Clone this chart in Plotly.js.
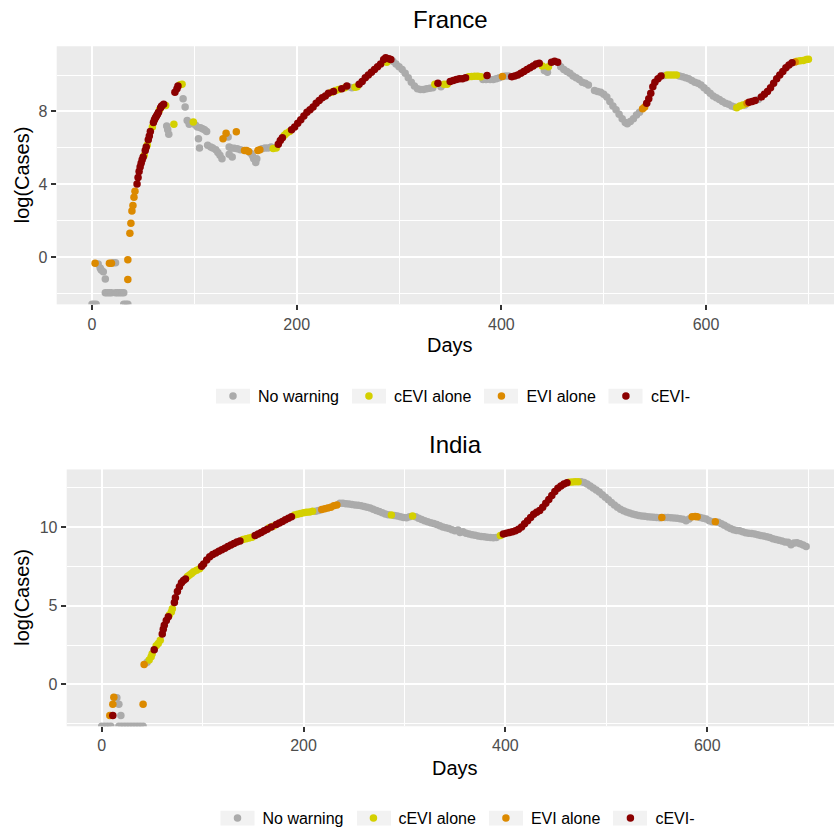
<!DOCTYPE html>
<html>
<head>
<meta charset="utf-8">
<script src="https://cdn.plot.ly/plotly-3.0.1.min.js"></script>
<style>
html, body { margin: 0; padding: 0; background: #ffffff; }
#chart { width: 834px; height: 835px; }
</style>
</head>
<body>
<div id="chart"></div>
<script>
// ---- Categories (legend order) ----
const categories = ["No warning", "cEVI alone", "EVI alone", "cEVI-"];
const categoryColors = ["#ABABAB", "#D4D000", "#DC8A00", "#8B0000"];

// ---- France: log(Cases) by day, split by warning category (-Infinity = log(0)) ----
const franceNoWarningDays = [0,2,4,6,8,9,11,13,13,15,17,19,21,23,23,25,27,29,31,31,33,35,73,74,75,89,91,93,95,101,103,104,105,106,108,110,112,113,116,118,121,123,125,127,133,134,134,136,137,139,142,145,155,157,158,160,161,166,169,172,175,251,254,294,297,300,303,306,309,312,315,318,321,324,327,330,333,341,382,385,389,392,395,398,404,407,442,445,458,461,464,467,470,473,476,479,482,485,491,494,497,500,503,506,509,512,515,518,521,523,526,529,532,535,559,574,577,580,583,586,589,592,595,598,601,604,607,610,613,616,619,622,625,628,638,651];
const franceNoWarningLogCases = [-Infinity,-Infinity,-Infinity,-0.38,-0.6,-0.7,-0.8,-1.2,-1.95,-1.95,-1.95,-1.95,-0.3,-0.3,-1.95,-1.95,-1.95,-1.95,-1.95,-Infinity,-Infinity,-Infinity,7.2,7.0,6.75,8.7,8.25,7.5,7.3,7.25,7.15,6.5,6.0,7.1,7.05,7.0,6.9,6.15,6.05,6.0,5.9,5.75,5.6,5.4,6.6,6.05,5.65,6.0,5.5,5.98,5.95,5.9,5.7,5.55,5.4,5.2,5.4,5.95,6.0,6.0,6.05,9.35,9.3,10.75,10.6,10.45,10.3,10.1,9.85,9.6,9.4,9.25,9.2,9.2,9.25,9.28,9.3,9.35,9.75,9.75,9.75,9.75,9.8,9.85,9.95,9.95,10.25,10.15,10.45,10.3,10.2,10.1,9.95,9.85,9.75,9.6,9.55,9.45,9.15,9.1,9.05,8.95,8.8,8.55,8.3,8.1,7.85,7.6,7.4,7.33,7.45,7.6,7.8,7.95,9.98,9.95,9.9,9.85,9.8,9.7,9.6,9.55,9.45,9.3,9.15,9.0,8.85,8.75,8.65,8.55,8.45,8.4,8.3,8.25,8.35,8.65];

const franceCeviAloneDays = [51,54,59,66,72,80,86,88,99,177,180,188,190,193,234,238,241,247,257,259,288,335,344,347,368,371,374,377,380,440,446,562,565,568,571,630,633,636,689,692,695,698,700];
const franceCeviAloneLogCases = [5.6,6.16,7.15,8.1,8.33,7.3,9.47,9.5,7.42,5.97,6.0,6.7,6.8,6.9,9.05,9.15,9.2,9.3,9.33,9.35,10.7,9.5,9.5,9.5,9.9,9.92,9.93,9.93,9.9,10.5,10.45,10.0,10.0,10.0,10.0,8.2,8.3,8.35,10.75,10.78,10.8,10.85,10.87];

const franceEviAloneDays = [3,17,19,35,35,37,38,39,40,41,42,128,131,141,149,151,153,162,164,401,538,540,640,687];
const franceEviAloneLogCases = [-0.33,-0.33,-0.33,-0.14,-1.23,1.32,1.86,2.53,2.84,3.29,3.62,6.5,6.8,6.88,5.85,5.85,5.8,5.85,5.9,9.92,8.15,8.25,8.45,10.72];

const franceCeviMinusDays = [44,45,46,47,48,49,50,52,53,55,56,57,60,61,62,63,64,65,67,68,70,81,83,84,182,184,186,195,198,201,204,207,210,213,216,219,222,225,228,231,236,244,249,261,264,267,270,273,276,279,282,285,287,290,292,338,350,353,356,359,362,365,386,410,413,416,419,422,425,428,431,434,437,449,452,455,542,544,546,548,550,553,556,642,645,648,654,657,660,663,666,669,672,675,678,681,684];
const franceCeviMinusLogCases = [4.02,4.38,4.7,4.95,5.15,5.35,5.5,5.85,6.05,6.45,6.65,6.9,7.4,7.55,7.65,7.75,7.85,7.95,8.2,8.3,8.4,9.05,9.25,9.4,6.2,6.4,6.55,7.0,7.15,7.35,7.55,7.75,7.95,8.1,8.25,8.45,8.6,8.75,8.85,9.0,9.1,9.25,9.4,9.5,9.65,9.85,10.0,10.15,10.3,10.45,10.6,10.85,10.95,10.9,10.85,9.55,9.65,9.7,9.75,9.8,9.8,9.85,9.98,9.9,9.95,10.0,10.1,10.2,10.3,10.4,10.5,10.6,10.65,10.7,10.75,10.7,8.45,8.7,9.0,9.35,9.6,9.8,9.95,8.5,8.55,8.6,8.8,8.95,9.1,9.3,9.55,9.8,10.0,10.2,10.4,10.55,10.68];

// ---- India ----
const indiaNoWarningDays = [0,3,6,9,15,17,19,17,20,23,26,29,32,35,38,41,45,212,215,236,239,242,245,248,251,254,257,260,263,266,269,272,275,278,281,284,290,293,296,299,302,305,311,314,317,320,323,326,329,332,335,338,341,344,347,350,353,355,358,361,364,367,370,373,376,379,382,385,388,391,475,478,481,484,487,490,493,496,499,502,505,508,511,514,517,520,523,526,529,532,535,538,541,544,547,550,553,558,561,564,567,570,573,576,579,582,593,596,599,602,605,611,614,617,620,623,626,629,632,635,638,641,644,647,650,653,656,659,662,665,668,671,674,677,680,683,686,689,692,695,698];
const indiaNoWarningLogCases = [-Infinity,-Infinity,-Infinity,-Infinity,-0.85,-1.26,-1.97,-Infinity,-Infinity,-Infinity,-Infinity,-Infinity,-Infinity,-Infinity,-Infinity,-Infinity,1.4,11.0,11.05,11.5,11.5,11.47,11.45,11.42,11.4,11.38,11.35,11.3,11.25,11.2,11.12,11.05,10.98,10.9,10.82,10.77,10.73,10.7,10.65,10.6,10.58,10.65,10.65,10.55,10.47,10.4,10.33,10.27,10.22,10.15,10.07,10.0,9.95,9.9,9.82,9.75,9.8,9.65,9.7,9.6,9.55,9.5,9.47,9.43,9.4,9.38,9.35,9.33,9.32,9.33,12.87,12.82,12.73,12.6,12.48,12.35,12.22,12.05,11.88,11.72,11.55,11.4,11.25,11.12,11.02,10.95,10.88,10.82,10.77,10.73,10.7,10.68,10.65,10.63,10.62,10.6,10.58,10.6,10.6,10.58,10.56,10.55,10.52,10.48,10.4,10.5,10.6,10.55,10.5,10.4,10.33,10.3,10.2,10.1,10.0,9.9,9.82,9.78,9.75,9.7,9.63,9.6,9.58,9.55,9.5,9.45,9.42,9.38,9.33,9.25,9.2,9.15,9.1,9.05,9.03,8.87,8.98,9.0,8.93,8.85,8.75];

const indiaCeviAloneDays = [47,49,50,54,56,58,67,69,70,85,87,89,91,94,97,140,143,146,149,166,170,191,194,197,200,203,206,209,287,308,395,463,466,469,472];
const indiaCeviAloneLogCases = [1.55,1.75,1.95,2.45,2.6,2.8,4.4,4.6,4.8,6.85,6.95,7.05,7.15,7.25,7.35,9.2,9.25,9.3,9.35,9.95,10.05,10.75,10.8,10.85,10.9,10.93,10.95,11.0,10.75,10.7,9.45,12.83,12.85,12.87,12.87];

const indiaEviAloneDays = [8,11,12,41,42,218,221,224,227,230,233,555,585,588,590,608];
const indiaEviAloneLogCases = [-1.97,-1.26,-0.82,-1.26,1.26,11.1,11.15,11.2,11.25,11.35,11.4,10.6,10.65,10.67,10.65,10.33];

const indiaCeviMinusDays = [11,52,60,61,62,64,66,72,73,75,77,79,81,83,99,101,104,107,110,113,116,119,122,125,128,131,134,137,152,155,158,161,164,168,173,176,179,182,185,188,398,401,404,407,410,413,416,419,422,425,428,431,434,437,440,443,446,449,452,455,458,461];
const indiaCeviMinusLogCases = [-1.97,2.2,3.2,3.5,3.75,4.05,4.3,5.2,5.5,5.9,6.2,6.45,6.6,6.7,7.5,7.65,7.9,8.1,8.25,8.35,8.45,8.55,8.65,8.75,8.85,8.95,9.05,9.1,9.45,9.55,9.65,9.75,9.85,10.0,10.15,10.25,10.35,10.45,10.55,10.65,9.55,9.6,9.65,9.7,9.75,9.85,10.0,10.2,10.4,10.6,10.8,10.93,11.05,11.25,11.5,11.75,12.0,12.25,12.45,12.6,12.73,12.8];

const franceTicks = [0, 4, 8];
const indiaTicks = [0, 5, 10];
const dayTicks = [0, 200, 400, 600];

// ---- layout helpers (pixels -> paper) ----
const W = 834, H = 835;
const px = v => v / W;
const py = v => 1 - v / H;
const FONT = "Liberation Sans, Arial, Helvetica, sans-serif";

const franceYRange = [-2.59, 11.58];
const indiaYRange = [-2.66, 13.65];

function buildTraces(daysList, valuesList, xa, ya, legendId, floorValue) {
  return categories.map((name, i) => ({
    type: "scatter",
    mode: "markers",
    name: name,
    x: daysList[i],
    y: valuesList[i].map(v => (v === -Infinity ? floorValue : v)),
    xaxis: xa,
    yaxis: ya,
    legend: legendId,
    marker: { color: categoryColors[i], size: 7.5, line: { width: 0 } },
    hovertemplate: "Day %{x}<br>log(Cases) %{y}<extra>" + name + "</extra>"
  }));
}

const traces = [].concat(
  buildTraces(
    [franceNoWarningDays, franceCeviAloneDays, franceEviAloneDays, franceCeviMinusDays],
    [franceNoWarningLogCases, franceCeviAloneLogCases, franceEviAloneLogCases, franceCeviMinusLogCases],
    "x", "y", "legend", franceYRange[0]),
  buildTraces(
    [indiaNoWarningDays, indiaCeviAloneDays, indiaEviAloneDays, indiaCeviMinusDays],
    [indiaNoWarningLogCases, indiaCeviAloneLogCases, indiaEviAloneLogCases, indiaCeviMinusLogCases],
    "x2", "y2", "legend2", indiaYRange[0])
);

function xAxis(domainLeft, range, anchor) {
  return {
    domain: [px(domainLeft), 1],
    range: range,
    anchor: anchor,
    tickvals: dayTicks,
    ticktext: dayTicks.map(String),
    ticks: "outside", ticklen: 5, tickwidth: 1.5, tickcolor: "#333333",
    tickfont: { family: FONT, size: 16, color: "#4D4D4D" },
    showgrid: true, gridcolor: "#FFFFFF", gridwidth: 1.6,
    minor: { tick0: 0, dtick: 100, showgrid: true, gridcolor: "#FFFFFF", gridwidth: 0.8, ticks: "" },
    zeroline: false, showline: false, fixedrange: true
  };
}
function yAxis(domain, range, ticks, minorStep, anchor) {
  return {
    domain: domain,
    range: range,
    anchor: anchor,
    tickvals: ticks,
    ticktext: ticks.map(String),
    ticks: "outside", ticklen: 5, tickwidth: 1.5, tickcolor: "#333333",
    tickfont: { family: FONT, size: 16, color: "#4D4D4D" },
    showgrid: true, gridcolor: "#FFFFFF", gridwidth: 1.6,
    minor: { tick0: 0, dtick: minorStep, showgrid: true, gridcolor: "#FFFFFF", gridwidth: 0.8, ticks: "" },
    zeroline: false, showline: false, fixedrange: true
  };
}

function legendBox(cx, cy) {
  return {
    type: "rect", xref: "paper", yref: "paper", layer: "below",
    x0: px(cx - 17), x1: px(cx + 17), y0: py(cy + 7.5), y1: py(cy - 7.5),
    fillcolor: "#F2F2F2", line: { width: 0 }
  };
}

function legendCfg(x, y) {
  return {
    orientation: "h", x: px(x), xanchor: "left", y: py(y), yanchor: "middle",
    font: { family: FONT, size: 16, color: "#000000" },
    bgcolor: "rgba(0,0,0,0)", borderwidth: 0,
    itemwidth: 40, itemclick: false, itemdoubleclick: false
  };
}

function ann(text, x, y, size, angle) {
  return {
    text: text, xref: "paper", yref: "paper", x: px(x), y: py(y),
    xanchor: "center", yanchor: "middle", showarrow: false,
    textangle: angle || 0,
    font: { family: FONT, size: size, color: "#000000" }
  };
}

const layout = {
  width: W, height: H,
  margin: { l: 0, r: 0, t: 0, b: 0 },
  paper_bgcolor: "#FFFFFF",
  plot_bgcolor: "#EBEBEB",
  font: { family: FONT },
  xaxis: xAxis(56.7, [-34.5, 725], "y"),
  yaxis: yAxis([py(307.3), py(46.7)], franceYRange, franceTicks, 2, "x"),
  xaxis2: xAxis(66.7, [-34.7, 725.6], "y2"),
  yaxis2: yAxis([py(733.3), py(474)], indiaYRange, indiaTicks, 2.5, "x2"),
  legend: legendCfg(208, 400),
  legend2: legendCfg(212.5, 826),
  shapes: [
    legendBox(233, 400), legendBox(369, 400), legendBox(501, 400), legendBox(625.5, 400),
    legendBox(237.5, 826), legendBox(374, 826), legendBox(506, 826), legendBox(630, 826)
  ],
  annotations: [
    ann("France", 450, 20, 24),
    ann("Days", 450, 348, 20),
    ann("log(Cases)", 22, 177, 20, -90),
    ann("India", 455, 449, 24),
    ann("Days", 455, 775, 20),
    ann("log(Cases)", 22, 603.5, 20, -90)
  ],
  hovermode: "closest"
};

Plotly.newPlot("chart", traces, layout, { displayModeBar: false, responsive: false });
</script>
</body>
</html>
